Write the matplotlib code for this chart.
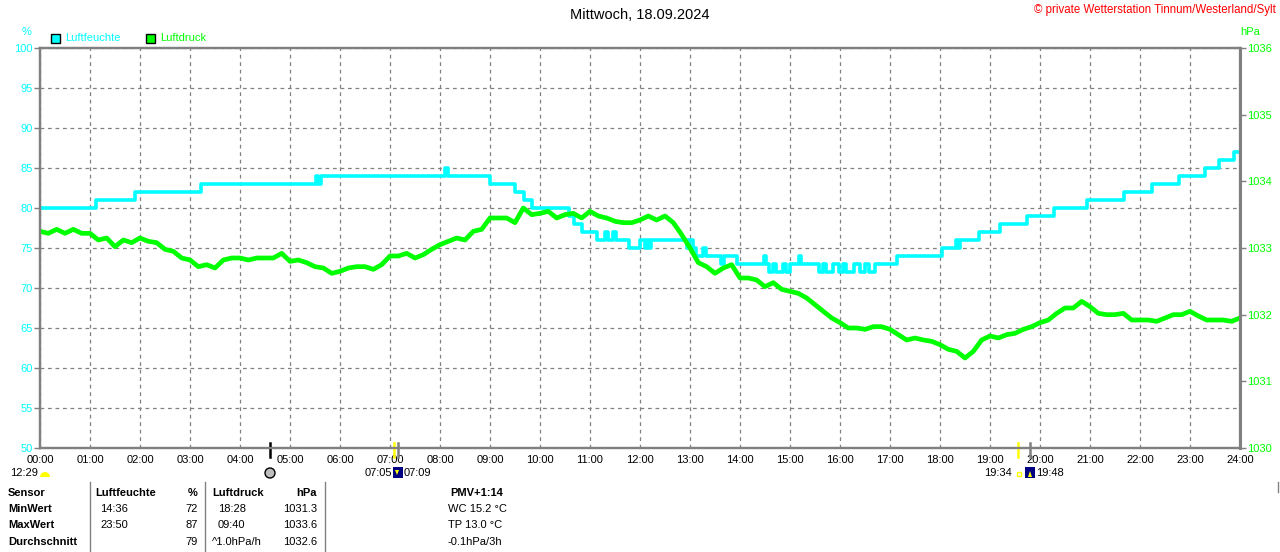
import numpy as np
import matplotlib.pyplot as plt
from matplotlib.patches import Rectangle, Circle, Wedge, Polygon

plt.rcParams['font.family'] = ['Liberation Sans', 'DejaVu Sans']

CYAN = '#00FFFF'
GREEN = '#00FF00'
GRAY = '#808080'

hour_labels = ['%02d:00' % h for h in range(25)]

# humidity (%), change points: hour -> value
hum_t = [0.0, 1.12, 1.9, 3.22, 5.52, 5.56, 5.62, 8.1, 8.16, 9.0, 9.5, 9.67, 9.83,
         10.58, 10.68, 10.83, 11.13, 11.3, 11.36, 11.45, 11.52, 11.77, 12.0, 12.1,
         12.13, 12.18, 12.22, 12.93, 12.97, 13.05, 13.12, 13.25, 13.32, 13.62, 13.68,
         13.93, 14.48, 14.52, 14.58, 14.65, 14.72, 14.85, 14.92, 15.0, 15.18, 15.22,
         15.57, 15.65, 15.72, 15.85, 15.97, 16.05, 16.12, 16.27, 16.4, 16.5, 16.58,
         16.7, 17.13, 18.03, 18.33, 18.36, 18.4, 18.77, 19.2, 19.73, 20.27, 20.93,
         21.67, 22.23, 22.77, 23.3, 23.57, 23.87, 24.0]
hum_v = [80, 81, 82, 83, 84, 83, 84, 85, 84, 83, 82, 81, 80,
         79, 78, 77, 76, 77, 76, 77, 76, 75, 76, 75,
         76, 75, 76, 75, 76, 75, 74, 75, 74, 73, 74,
         73, 74, 73, 72, 73, 72, 73, 72, 73, 74, 73,
         72, 73, 72, 73, 72, 73, 72, 73, 72, 73, 72,
         73, 74, 75, 76, 75, 76, 77, 78, 79, 80, 81,
         82, 83, 84, 85, 86, 87, 87]

# air pressure (hPa), every 10 minutes from 00:00 to 24:00
press_v = [1033.25, 1033.22, 1033.28, 1033.22, 1033.28, 1033.22,
           1033.22, 1033.12, 1033.15, 1033.02, 1033.12, 1033.08,
           1033.15, 1033.10, 1033.08, 1032.98, 1032.95, 1032.85,
           1032.82, 1032.72, 1032.75, 1032.70, 1032.82, 1032.85,
           1032.85, 1032.82, 1032.85, 1032.85, 1032.85, 1032.92,
           1032.80, 1032.82, 1032.78, 1032.72, 1032.70, 1032.62,
           1032.65, 1032.70, 1032.72, 1032.72, 1032.68, 1032.75,
           1032.88, 1032.88, 1032.92, 1032.85, 1032.90, 1032.98,
           1033.05, 1033.10, 1033.15, 1033.12, 1033.25, 1033.28,
           1033.45, 1033.45, 1033.45, 1033.38, 1033.60, 1033.50,
           1033.52, 1033.55, 1033.45, 1033.50, 1033.52, 1033.45,
           1033.55, 1033.48, 1033.45, 1033.40, 1033.38, 1033.38,
           1033.42, 1033.48, 1033.42, 1033.48, 1033.38, 1033.20,
           1033.00, 1032.78, 1032.72, 1032.62, 1032.70, 1032.75,
           1032.55, 1032.55, 1032.52, 1032.42, 1032.48, 1032.38,
           1032.35, 1032.32, 1032.25, 1032.15, 1032.05, 1031.95,
           1031.88, 1031.80, 1031.80, 1031.78, 1031.82, 1031.82,
           1031.78, 1031.70, 1031.62, 1031.65, 1031.62, 1031.60,
           1031.55, 1031.48, 1031.45, 1031.35, 1031.45, 1031.62,
           1031.68, 1031.65, 1031.70, 1031.72, 1031.78, 1031.82,
           1031.88, 1031.92, 1032.02, 1032.10, 1032.10, 1032.20,
           1032.12, 1032.02, 1032.00, 1032.00, 1032.02, 1031.92,
           1031.92, 1031.92, 1031.90, 1031.95, 1032.00, 1032.00,
           1032.05, 1031.98, 1031.92, 1031.92, 1031.92, 1031.90,
           1031.95]
press_t = np.arange(len(press_v)) / 6.0

# markers on the time axis (hour, colour)
axis_marks = [(4.6, 'black'), (7.083, '#FFFF00'), (7.15, GRAY),
              (19.567, '#FFFF00'), (19.8, GRAY)]

table_rows = ['Sensor', 'MinWert', 'MaxWert', 'Durchschnitt']
hum_col = [('', ''), ('14:36', '72'), ('23:50', '87'), ('', '79')]
press_col = [('', ''), ('18:28', '1031.3'), ('09:40', '1033.6'), ('^1.0hPa/h', '1032.6')]
pmv_col = ['PMV+1:14', 'WC 15.2 °C', 'TP 13.0 °C', '-0.1hPa/3h']

fig = plt.figure(figsize=(12.8, 5.52), dpi=100)
ax = fig.add_axes([40 / 1280, 1 - 448 / 552, 1200 / 1280, 400 / 552])
ax.set_xlim(0, 24)
ax.set_ylim(50, 100)
ax.set_xticks(range(25))
ax.set_xticklabels(hour_labels)
ax.set_yticks(range(50, 101, 5))
ax.grid(True, color=GRAY, ls=(0, (3, 3)), lw=0.9)
ax.tick_params(axis='x', length=0, pad=5, labelsize=8, labelcolor='black')
ax.tick_params(axis='y', length=4, width=1, color=GRAY, pad=1, labelsize=8, labelcolor=CYAN)
ax.step(hum_t, hum_v, where='post', color=CYAN, lw=2.6)

ax2 = ax.twinx()
ax2.set_ylim(1030, 1036)
ax2.set_yticks(range(1030, 1037))
ax2.tick_params(axis='y', length=4, width=1, color=GRAY, pad=1, labelsize=8, labelcolor=GREEN)
ax2.plot(press_t, press_v, color=GREEN, lw=3.4)

for a in (ax, ax2):
    for s in a.spines.values():
        s.set_color(GRAY)
        s.set_linewidth(1.6)
ax2.spines['right'].set_linewidth(2.2)

for t, c in axis_marks:
    ax.plot([t, t], [50.6, 48.9], color=c, lw=1.8, clip_on=False, zorder=5)

# overlay in pixel coordinates for texts and icons
ov = fig.add_axes([0, 0, 1, 1], zorder=10)
ov.set_xlim(0, 1280)
ov.set_ylim(552, 0)
ov.axis('off')

ov.text(640, 15, 'Mittwoch, 18.09.2024', ha='center', va='center', size=10.5)
ov.text(1276, 10, '© private Wetterstation Tinnum/Westerland/Sylt', ha='right', va='center',
        size=8.3, color='red')
ov.text(27, 32, '%', ha='center', va='center', size=8, color=CYAN)
ov.text(1250, 32, 'hPa', ha='center', va='center', size=8, color=GREEN)

ov.add_patch(Rectangle((50.5, 33.5), 9, 9, facecolor=CYAN, edgecolor='black', lw=1))
ov.text(65, 38, 'Luftfeuchte', va='center', size=8, color=CYAN)
ov.add_patch(Rectangle((145.5, 33.5), 9, 9, facecolor=GREEN, edgecolor='black', lw=1))
ov.text(160, 38, 'Luftdruck', va='center', size=8, color=GREEN)

# sun / moon line below the axis
ov.text(10, 473, '12:29', va='center', size=8)
ov.add_patch(Wedge((45, 477), 5, 180, 360, facecolor='#FFFF00', edgecolor='none'))
ov.add_patch(Circle((270, 473), 5, facecolor='#BDBDBD', edgecolor='black', lw=1))
ov.text(392, 473, '07:05', ha='right', va='center', size=8)
ov.add_patch(Rectangle((393, 467), 10, 11, facecolor='#000080', edgecolor='none'))
ov.add_patch(Polygon([(395, 470), (399, 470), (397, 475)], facecolor='#FFFF00', edgecolor='none'))
ov.text(404, 473, '07:09', va='center', size=8)
ov.text(1012, 473, '19:34', ha='right', va='center', size=8)
ov.add_patch(Rectangle((1016.5, 471.5), 4, 4, facecolor='white', edgecolor='#FFFF00', lw=1))
ov.add_patch(Rectangle((1025, 467), 10, 11, facecolor='#000080', edgecolor='none'))
ov.add_patch(Polygon([(1028, 477), (1032, 477), (1030, 471)], facecolor='#FFFF00', edgecolor='none'))
ov.text(1036, 473, '19:48', va='center', size=8)

# table
for x in (90, 205, 325):
    ov.plot([x, x], [482, 552], color=GRAY, lw=1)
ov.plot([1278, 1278], [482, 492], color=GRAY, lw=1)
row_y = [493, 509, 525, 542]
for i, y in enumerate(row_y):
    ov.text(8, y, table_rows[i], va='center', size=8, weight='bold')
    ov.text(100, y, hum_col[i][0], va='center', size=8)
    ov.text(198, y, hum_col[i][1], ha='right', va='center', size=8)
    ov.text(218 if i < 3 else 212, y, press_col[i][0], va='center', size=8)
    ov.text(317, y, press_col[i][1], ha='right', va='center', size=8)
    if i == 0:
        ov.text(477, y, pmv_col[i], ha='center', va='center', size=8, weight='bold')
    else:
        ov.text(448, y, pmv_col[i], va='center', size=8)
ov.text(95, row_y[0], 'Luftfeuchte', va='center', size=8, weight='bold')
ov.text(198, row_y[0], '%', ha='right', va='center', size=8, weight='bold')
ov.text(212, row_y[0], 'Luftdruck', va='center', size=8, weight='bold')
ov.text(317, row_y[0], 'hPa', ha='right', va='center', size=8, weight='bold')

fig.savefig('out.png', dpi=100)
